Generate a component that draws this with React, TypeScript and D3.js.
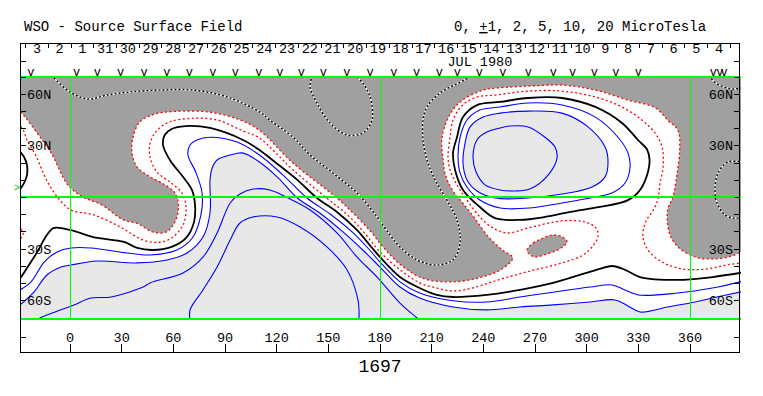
import React from 'react';
import * as d3 from 'd3';

type Pt = [number, number];

// ---- labels / axes ----
const title = 'WSO - Source Surface Field';
const rotation = '1697';
const monthLabel = 'JUL 1980';
const monthLon = 238;
const dayLabels = ['3', '2', '1', '31', '30', '29', '28', '27', '26', '25', '24', '23', '22', '21', '20',
  '19', '18', '17', '16', '15', '14', '13', '12', '11', '10', '9', '8', '7', '6', '5', '4'];
const dayStartLon = -19.2;
const dayStepLon = 13.2;
const obsLons = [-22.8, 3.9, 15.9, 29.4, 43.0, 56.2, 69.3, 82.9, 96.0, 109.6, 121.9, 134.3, 147.1, 160.7,
  174.2, 188.1, 201.3, 214.5, 224.9, 237.7, 251.3, 266.1, 280.6, 291.9, 304.5, 316.9, 330.0, 373.6, 377.4, 379.8];
const lonTicks = [0, 30, 60, 90, 120, 150, 180, 210, 240, 270, 300, 330, 360];
const latTicks = [-60, -50, -40, -30, -20, -10, 0, 10, 20, 30, 40, 50, 60];
const latLabels: [number, string][] = [[60, '60N'], [30, '30N'], [-30, '30S'], [-60, '60S']];
const gridLons = [0, 180, 360];
const gridLats = [-70, 0, 70];
const earthLat = 6;

// ---- contours, [lon, lat] ----
// -1 level: edge of the dark (negative) shading
const negEdge: Pt[] = [[-31, 51], [-29, 50], [-18, 36], [-11, 26], [-1, 7], [8, 0], [18, -4], [31, -13], [39, -15],
  [48, -20], [56, -20], [61, -14], [63, -5.5], [61, 2.6], [54, 8], [46.5, 12], [39, 17.7], [36, 26], [36.6, 35],
  [40.6, 44], [49.4, 48.5], [61, 50], [81, 49.6], [99, 45], [110, 39], [129.5, 20], [155, -0.3], [162.6, -7.3],
  [174, -19], [182, -29], [192, -39], [205, -47], [221, -49], [236, -47], [250, -42], [257, -35], [251, -30.5],
  [243, -23], [235, -12], [228, -3.2], [222, 4.4], [218, 13], [216.6, 22], [216, 35], [221, 49], [228, 56.6],
  [240, 62.4], [248, 63.6], [266, 64.7], [286, 65.3], [305, 62.4], [324, 56.6], [340, 52], [347, 45], [353, 39],
  [354, 27.6], [352.5, 14], [350, 0], [347, -7], [348, -20.6], [353, -28.7], [363, -34.6], [373, -35.7],
  [382, -34.6], [389, -32], [391, -31]];
const negIsland: Pt[] = [[265.4, -30.5], [269, -26.4], [275, -23.5], [280.5, -21.8], [286, -23], [288.6, -25.8],
  [286, -28.7], [280.5, -31.6], [275, -33.4], [270, -34.6], [266, -32.2]];
// inner dotted line
const redLine: Pt[] = [[-31, 42.5], [-29, 41.5], [-27, 39], [-25, 33.4], [-20, 24.7], [-13, 9], [-5, -2.6],
  [0.6, -7.3], [13.4, -10], [29, -17], [42.4, -24.7], [52, -26], [59, -23.5], [65.6, -16], [67.4, -6], [65, 2.6],
  [58, 9], [50.5, 14.8], [46.5, 23.5], [46.5, 31.6], [50.5, 39], [58, 44], [71.4, 46], [85.4, 45], [100.5, 38.6],
  [110, 34.6], [119, 26.4], [129.5, 16], [149, -0.3], [161, -10], [171, -20.6], [180, -31.6], [191.6, -42],
  [203, -49.6], [213, -52.6], [222.4, -54.3], [232, -53], [242, -50], [252.6, -46.7], [266, -43], [285.7, -38],
  [298, -33.4], [303.7, -28], [306.6, -22.4], [305.4, -17.7], [299, -14.2], [285.7, -13.6], [266, -17.7],
  [254, -20.6], [245.6, -17.7], [238, -11.3], [230.5, -1.5], [224.7, 7.3], [220.7, 16], [219.5, 23.5],
  [220.7, 35], [222.4, 45], [228, 53.7], [236.3, 58.4], [246.8, 59.5], [266, 61.8], [285.7, 61.8], [305, 58.4],
  [320.5, 52.6], [332, 45], [339.7, 37.5], [343.8, 29.3], [344.4, 17.7], [342.6, 8.4], [341.5, -0.3],
  [339.7, -5.5], [334, -14.8], [332.7, -23], [335.6, -30.5], [343.8, -37.5], [353, -41], [363, -42], [373, -41],
  [382, -39], [391, -38]];
const redArc: Pt[] = [[-29.8, -16], [-27.9, -19], [-27.3, -21.8], [-29.8, -25]];
// neutral line
const neutralMain: Pt[] = [[-31, -48], [-29, -46.7], [-25, -41], [-19, -31.6], [-13.4, -21.8], [-9.3, -17.7],
  [0.6, -19], [13.4, -23], [31.4, -25.8], [39, -29.3], [48, -30.5], [59, -28.7], [67.4, -23.5], [72, -14.2],
  [72.6, -4.4], [70.8, 4.4], [65.6, 12], [58, 21.8], [54, 30.5], [55, 36.3], [59, 39.8], [67, 41.5], [81.3, 40.4],
  [100.5, 33.4], [110, 27.6], [119, 20.6], [132, 10.2], [143.4, -0.3], [155, -8.4], [166.7, -19], [174, -27.6],
  [180, -34.6], [191.6, -46.2], [203, -52.6], [213, -56.6], [222.4, -57.8], [242, -56.6], [261.3, -53.7],
  [280.5, -49.6], [296, -45], [307.7, -41.5], [314.7, -39.8], [322.3, -42], [331, -46.2], [353, -47.9],
  [373, -46.2], [391, -43.5]];
const neutralLoop: Pt[] = [[249.7, 55.5], [236.3, 53.7], [228.2, 46.7], [224.7, 35], [222.4, 25.8], [223.6, 16],
  [228.2, 4.4], [238, -5.5], [246.8, -12], [261.3, -13], [275.8, -11.3], [290.4, -8.4], [307.7, -5.5],
  [324, -1.5], [331, 4.4], [335.6, 14.8], [336.5, 22], [335, 28], [329.8, 33.4], [320.5, 43.3], [305, 52.6],
  [285.7, 57.8], [266, 57.8]];
const neutralArc: Pt[] = [[-29.8, 27.6], [-26.7, 23.5], [-25, 18.9], [-25, 13], [-26.7, 8.4], [-29.8, 3.8]];
// +2
const pos2Main: Pt[] = [[-31, -55], [-29, -53.7], [-22.6, -49], [-15, -37.5], [-7.5, -31.6], [0.6, -29.3],
  [12.2, -29.3], [33, -32.2], [46.5, -33.4], [62, -30.5], [71, -23.5], [76, -10.2], [76.7, 2.6], [73, 14.8],
  [68.5, 24.7], [69.7, 30.5], [73.7, 33.4], [81.3, 35], [97, 32.2], [110, 24.7], [123.7, 13], [137.6, -0.3],
  [151, -9.6], [163.8, -20], [174, -30.5], [180, -37.5], [191.6, -49], [203, -55.5], [222.4, -60], [242, -60.7],
  [261.3, -57.8], [280.5, -55], [302, -52], [314.7, -50.8], [322.3, -53.7], [330, -56.6], [353, -55.5],
  [373, -52.6], [391, -48.5]];
const pos2Loop: Pt[] = [[249.7, 52.6], [238, 50.8], [230.5, 45], [226.5, 35], [225.3, 23.5], [226.5, 14.2],
  [230.5, 6.1], [238, -1.5], [249.7, -6.1], [267.1, -6.1], [285.7, -3.2], [305, 0.3], [314.7, 2.6], [322.3, 8.4],
  [325.2, 17.7], [324, 25.8], [318.2, 35], [305, 46.7], [285.7, 53.7], [266, 54.9]];
// +5 (edge of light shading)
const pos5Main: Pt[] = [[-31, -64], [-29, -62.4], [-21, -55], [-13.4, -45], [-5.2, -40.4], [0.6, -39.2],
  [15.7, -36.9], [39, -38], [56.3, -36.3], [68, -32.2], [77.2, -23], [81.3, -9], [81.3, 10.2], [82.5, 17],
  [85.4, 21.8], [93, 24.7], [100.5, 25.8], [110, 20.6], [121, 11.3], [132, -0.3], [145, -9], [158.5, -20],
  [170, -30.5], [180, -40.4], [191.6, -52], [203, -58.4], [222.4, -63.6], [242, -65.3], [261.3, -63.6],
  [280.5, -62.4], [302, -60.7], [316.5, -59.5], [324, -63], [331, -66.5], [347, -63.6], [363, -60.7],
  [373, -58.4], [391, -54.5]];
const pos5Loop: Pt[] = [[249.7, 49], [239.8, 46.7], [232.3, 41], [229.4, 31.6], [228.2, 20], [230.5, 10.2],
  [236.3, 3.8], [246.8, -0.3], [266, -0.3], [285.7, 2], [303.1, 6.1], [310.7, 12], [312.4, 20.6], [310.7, 29.3],
  [300.8, 41], [285.7, 49], [266, 50.2]];
// +10
const pos10Main: Pt[] = [[-19, -71], [-17.4, -70], [-10, -67], [2.3, -62.4], [12.2, -58.4], [23.8, -57.8],
  [42.4, -52], [46.5, -49.6], [65.6, -43.8], [77.2, -34.6], [85.4, -20.6], [93, -3.2], [98.7, 2], [106.3, 4.9],
  [116, 4.4], [127.8, -0.9], [139.4, -7.3], [155, -20.6], [166.7, -34.6], [178.3, -46.2], [191.6, -61.3],
  [201.5, -70], [202.5, -71]];
const pos10Loop: Pt[] = [[249.7, 40.4], [242, 38], [236.3, 33.4], [234, 23.5], [235.8, 14.8], [241, 7.3],
  [249.7, 4.4], [258.4, 3.8], [267, 4.9], [277.6, 13], [282.8, 23], [281.6, 29.3], [275.8, 35], [266, 41],
  [255.5, 41.5]];
// +20
const pos20Main: Pt[] = [[69.7, -71], [69.7, -65.3], [77.2, -53.7], [85.4, -40.4], [93, -24.7], [98.7, -14.8],
  [106.3, -11.3], [120.2, -11.3], [133.6, -17.1], [149.2, -28.7], [160.9, -42.1], [167.2, -59.5], [167.8, -71]];
// negative contours inside the shading
const negMain: Pt[] = [[-11, 71], [-9.9, 70], [0, 61.3], [10.5, 57.2], [21.5, 59.5], [34.8, 61.3], [52.3, 62.4],
  [71.4, 62.4], [91.2, 58.4], [110.3, 49.6], [116, 45], [129.5, 35], [139.4, 24.7], [152.7, 14.2], [166.7, 2.6],
  [178.3, -11.3], [185.8, -21.8], [191.6, -28.7], [201.5, -36.3], [213.1, -39.2], [222.4, -36.3], [226.5, -26.4],
  [224.7, -13.1], [218.9, -1.5], [212, 10.2], [207.3, 21.8], [205, 33.4], [205, 45], [207.3, 52.6],
  [214.9, 60.7], [226.5, 67], [232.3, 70], [234, 71]];
const negPocket: Pt[] = [[140.8, 71], [140.5, 70], [139.4, 64.2], [143.4, 54.9], [151, 43.3], [160.9, 36.3],
  [170, 37.5], [175.4, 45], [174.2, 58.4], [170, 66.5], [166.7, 70], [166, 71]];
const negCorner: Pt[] = [[371, 71], [371.6, 70], [375, 66.5], [380.4, 64], [385, 63], [391, 64]];
const negRight: Pt[] = [[391, 20.6], [382, 20.6], [376.3, 14.2], [374.5, 4.4], [375.7, -3.2], [380.4, -10.2],
  [386, -12], [391, -11.3]];

const W = 763;
const H = 396;
const mono = "'Liberation Mono', 'DejaVu Sans Mono', monospace";

const xs = d3.scaleLinear().domain([0, 360]).range([70, 690]);
const ys = d3.scaleLinear().domain([-70, 70]).range([318, 77]);

const openLine = d3.line<Pt>().x(d => xs(d[0])).y(d => ys(d[1])).curve(d3.curveCatmullRom.alpha(0.5));
const closedLine = d3.line<Pt>().x(d => xs(d[0])).y(d => ys(d[1])).curve(d3.curveCatmullRomClosed.alpha(0.5));

// contour line plus a run along the outside of the frame, closed
const areaPath = (pts: Pt[], tail: Pt[]) =>
  openLine(pts) + tail.map(p => `L${xs(p[0])},${ys(p[1])}`).join('') + 'Z';

const crisp = (v: number) => Math.floor(v) + 0.5;

const RED = { stroke: '#ff0000', strokeWidth: 1.3, strokeDasharray: '2 2.5', fill: 'none' };
const BLACK = { stroke: '#000', strokeWidth: 1.8, fill: 'none' };
const BLUE = { stroke: '#0000ff', strokeWidth: 1.1, fill: 'none' };

const Dashed = ({ d }: { d: string }) => (
  <g fill="none">
    <path d={d} stroke="#fff" strokeWidth={1.4} />
    <path d={d} stroke="#000" strokeWidth={1.4} strokeDasharray="2 2" />
  </g>
);

export default function App() {
  const left = Math.floor(xs(-29));
  const right = Math.ceil(xs(389.1));
  const top = ys(70);
  const bottom = ys(-70);

  return (
    <svg width={W} height={H} style={{ position: 'absolute', left: 0, top: 0, background: '#fff' }}
      fontFamily={mono}>
      <defs>
        <clipPath id="plot">
          <rect x={left} y={top} width={right - left} height={bottom - top} />
        </clipPath>
      </defs>

      <text x={24} y={31} fontSize={14}>{title}</text>
      <text x={454} y={31} fontSize={14} xmlSpace="preserve">
        0, <tspan textDecoration="underline">+</tspan>1, 2, 5, 10, 20 MicroTesla
      </text>

      <g clipPath="url(#plot)">
        <path d={areaPath(negEdge, [[392, -31], [392, 72], [-32, 72], [-32, 51]])} fill="#a0a0a0" />
        <path d={closedLine(negIsland) || ''} fill="#a0a0a0" />
        <path d={areaPath(pos5Main, [[392, -54.5], [392, -72], [-32, -72], [-32, -64]])} fill="#e8e8e8" />
        <path d={closedLine(pos5Loop) || ''} fill="#e8e8e8" />

        <Dashed d={openLine(negMain) || ''} />
        <Dashed d={openLine(negPocket) || ''} />
        <Dashed d={openLine(negCorner) || ''} />
        <Dashed d={openLine(negRight) || ''} />

        {[pos2Main, pos5Main, pos10Main, pos20Main].map((p, i) => (
          <path key={'bm' + i} d={openLine(p) || ''} {...BLUE} />
        ))}
        {[pos2Loop, pos5Loop, pos10Loop].map((p, i) => (
          <path key={'bl' + i} d={closedLine(p) || ''} {...BLUE} />
        ))}

        <path d={openLine(neutralMain) || ''} {...BLACK} />
        <path d={closedLine(neutralLoop) || ''} {...BLACK} />
        <path d={openLine(neutralArc) || ''} {...BLACK} />

        <path d={openLine(negEdge) || ''} {...RED} />
        <path d={closedLine(negIsland) || ''} {...RED} />
        <path d={openLine(redLine) || ''} {...RED} />
        <path d={openLine(redArc) || ''} {...RED} />
      </g>

      {/* green reference lines, drawn over the contours */}
      <g fill="#00ff00" shapeRendering="crispEdges">
        {gridLons.map(l => (
          <rect key={'gl' + l} x={Math.floor(xs(l))} y={top} width={1} height={bottom - top + 1} />
        ))}
        {gridLats.map(l => (
          <rect key={'gt' + l} x={left} y={Math.floor(ys(l)) - (l === -70 ? 0 : 1)} width={right - left} height={2} />
        ))}
      </g>

      {/* frame */}
      <rect x={20.5} y={43.5} width={719} height={309} fill="none" stroke="#000" strokeWidth={1}
        shapeRendering="crispEdges" />

      {/* date strip */}
      <g stroke="#000" shapeRendering="crispEdges">
        {d3.range(dayLabels.length + 1).map(k => {
          const x = crisp(xs(dayStartLon + (k - 0.5) * dayStepLon));
          return <line key={'ds' + k} x1={x} x2={x} y1={43} y2={48} />;
        })}
        {[61, 77].map(y => (
          <g key={'st' + y}>
            <line x1={20} x2={26} y1={y + 0.5} y2={y + 0.5} />
            <line x1={734} x2={740} y1={y + 0.5} y2={y + 0.5} />
          </g>
        ))}
      </g>
      {dayLabels.map((t, k) => (
        <text key={'d' + k} x={xs(dayStartLon + k * dayStepLon)} y={53} fontSize={13.5} textAnchor="middle">{t}</text>
      ))}
      <text x={xs(monthLon)} y={65.5} fontSize={13.5} textAnchor="middle">{monthLabel}</text>
      {obsLons.map((l, i) => (
        <text key={'v' + i} x={xs(l)} y={75.5} fontSize={12} textAnchor="middle">v</text>
      ))}

      {/* latitude ticks */}
      <g stroke="#000" shapeRendering="crispEdges">
        {latTicks.map(l => {
          const y = crisp(ys(l));
          return (
            <g key={'lt' + l}>
              <line x1={20} x2={26} y1={y} y2={y} />
              <line x1={734} x2={740} y1={y} y2={y} />
            </g>
          );
        })}
      </g>
      {latLabels.map(([l, t]) => (
        <g key={'ll' + t} fontSize={13.5}>
          <text x={27} y={ys(l) + 4.5}>{t}</text>
          <text x={733} y={ys(l) + 4.5} textAnchor="end">{t}</text>
        </g>
      ))}
      <text x={20} y={ys(earthLat) + 3.5} fontSize={10} textAnchor="end" fill="#00cc00">&gt;</text>

      {/* longitude axis */}
      {lonTicks.map(l => {
        const x = crisp(xs(l));
        return (
          <g key={'xt' + l}>
            <line x1={x} x2={x} y1={344} y2={352} stroke="#000" shapeRendering="crispEdges" />
            <text x={xs(l)} y={342} fontSize={13.5} textAnchor="middle">{l}</text>
          </g>
        );
      })}
      <g stroke="#000" shapeRendering="crispEdges">
        <line x1={20} x2={26} y1={337.5} y2={337.5} />
        <line x1={734} x2={740} y1={337.5} y2={337.5} />
      </g>
      <text x={380} y={372} fontSize={18} textAnchor="middle">{rotation}</text>
    </svg>
  );
}
